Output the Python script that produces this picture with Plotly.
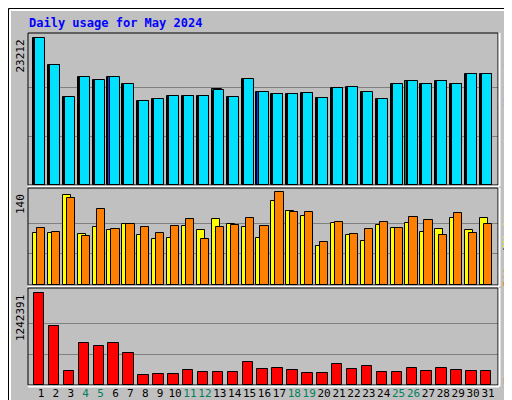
import plotly.graph_objects as go

days = list(range(1, 32))
hits = [23212, 18950, 13900, 17050, 16580, 17050, 15950, 13260, 13580, 14050, 14050, 14050, 15000, 13900, 16740, 14690,
        14370, 14370, 14530, 13740, 15320, 15470, 14690, 13580, 15950, 16420, 15950, 16420, 15950, 17530, 17530]
files = [23000, 18900, 13850, 17000, 16550, 17000, 15800, 13200, 13500, 13900, 14000, 14000, 14800, 13850, 16700, 14650,
         14300, 14300, 14450, 13700, 15250, 15400, 14600, 13500, 15800, 16300, 15900, 16350, 15900, 17450, 17450]
pages = [23212, 18950, 13900, 17050, 16580, 17050, 15950, 13260, 13580, 14050, 14050, 14050, 15200, 13900, 16740, 14690,
         14370, 14370, 14530, 13740, 15320, 15470, 14690, 13580, 15950, 16420, 15950, 16420, 15950, 17530, 17530]
sites = [78, 78, 135, 77, 87, 83, 92, 75, 69, 71, 89, 83, 99, 92, 87, 71,
         126, 111, 104, 59, 93, 75, 66, 90, 86, 93, 80, 84, 101, 83, 101]
visits = [86, 80, 131, 74, 114, 84, 92, 87, 78, 89, 99, 69, 87, 90, 101, 89,
          140, 110, 110, 65, 95, 77, 84, 95, 86, 102, 98, 75, 108, 78, 92]
kbytes = [1242391, 798000, 195000, 562000, 521000, 562000, 426000, 141000, 154000, 154000, 209000, 181000, 181000, 181000,
          304000, 222000, 236000, 209000, 168000, 168000, 277000, 222000, 263000, 181000, 181000, 236000, 195000, 236000,
          209000, 195000, 195000]
weekend = [4, 5, 11, 12, 18, 19, 25, 26]

W, H = 512, 400
def py(p):
    return 1 - p / H
def px(p):
    return p / W

fig = go.Figure()
line = dict(color='black', width=1)
# pages / files / hits
fig.add_trace(go.Bar(x=days, y=pages, offset=-0.54, width=0.72, marker=dict(color='#00805C', line=line), xaxis='x', yaxis='y'))
fig.add_trace(go.Bar(x=days, y=files, offset=-0.47, width=0.72, marker=dict(color='#0040FF', line=line), xaxis='x', yaxis='y'))
fig.add_trace(go.Bar(x=days, y=hits, offset=-0.4, width=0.67, marker=dict(color='#00E0FF', line=line), xaxis='x', yaxis='y'))
# sites / visits
fig.add_trace(go.Bar(x=days, y=sites, offset=-0.54, width=0.55, marker=dict(color='#FFFF00', line=line), xaxis='x2', yaxis='y2'))
fig.add_trace(go.Bar(x=days, y=visits, offset=-0.27, width=0.55, marker=dict(color='#FF8000', line=line), xaxis='x2', yaxis='y2'))
# kbytes
fig.add_trace(go.Bar(x=days, y=kbytes, offset=-0.47, width=0.7, marker=dict(color='#FF0000', line=line), xaxis='x3', yaxis='y3'))

xr = [0.13, 31.67]
ticktext = [f"<span style='color:#00805C'>{d}</span>" if d in weekend else str(d) for d in days]
common_x = dict(range=xr, domain=[px(20), px(490)], showgrid=False, zeroline=False, fixedrange=True, automargin=False)
common_y = dict(showticklabels=False, ticks='', zeroline=False, gridcolor='#808080', gridwidth=1, automargin=False)
mono = 'DejaVu Sans Mono'
fig.update_layout(
    width=W, height=H, margin=dict(l=0, r=0, t=0, b=0, autoexpand=False), showlegend=False,
    barmode='overlay', bargap=0,
    paper_bgcolor='#C0C0C0', plot_bgcolor='#C0C0C0',
    font=dict(family=mono, size=11, color='black'),
    xaxis=dict(common_x, anchor='y', showticklabels=False),
    xaxis2=dict(common_x, anchor='y2', showticklabels=False),
    xaxis3=dict(common_x, anchor='y3', tickvals=days, ticktext=ticktext, ticks='', tickangle=0,
                tickfont=dict(family=mono, size=11)),
    yaxis=dict(common_y, domain=[py(177), py(25)], range=[0, 24000], tickvals=[7737, 15474]),
    yaxis2=dict(common_y, domain=[py(277), py(180)], range=[0, 146], tickvals=[47, 93]),
    yaxis3=dict(common_y, domain=[py(377), py(280)], range=[0, 1310000], tickvals=[414130, 828260]),
)

shapes = [
    dict(type='rect', xref='paper', yref='paper', x0=px(0.5), x1=px(511.5), y0=py(399.5), y1=py(0.5), line=dict(color='black', width=1)),
    dict(type='line', xref='paper', yref='paper', x0=px(2), x1=px(510), y0=py(397), y1=py(397), line=dict(color='#808080', width=3)),
    dict(type='line', xref='paper', yref='paper', x0=px(510), x1=px(510), y0=py(2), y1=py(397), line=dict(color='#808080', width=3)),
    dict(type='line', xref='paper', yref='paper', x0=px(2), x1=px(508), y0=py(2), y1=py(2), line=dict(color='white', width=2)),
    dict(type='line', xref='paper', yref='paper', x0=px(2), x1=px(2), y0=py(2), y1=py(396), line=dict(color='white', width=2)),
]
for top, bot in [(25, 177), (180, 277), (280, 377)]:
    shapes.append(dict(type='rect', xref='paper', yref='paper', x0=px(20), x1=px(490), y0=py(bot), y1=py(top),
                       line=dict(color='black', width=1)))
    shapes.append(dict(type='line', xref='paper', yref='paper', x0=px(20), x1=px(491), y0=py(bot + 1.5), y1=py(bot + 1.5),
                       line=dict(color='white', width=2)))
    shapes.append(dict(type='line', xref='paper', yref='paper', x0=px(491.5), x1=px(491.5), y0=py(bot + 1.5), y1=py(top),
                       line=dict(color='white', width=2)))
fig.update_layout(shapes=shapes)

ann = [
    dict(text='<b>Daily usage for May 2024</b>', x=px(19), y=py(15), xanchor='left', yanchor='middle',
         font=dict(family=mono, size=12, color='#0000FF')),
    dict(text='23212', x=px(12), y=py(30), xanchor='center', yanchor='top', textangle=-90),
    dict(text='140', x=px(12), y=py(184), xanchor='center', yanchor='top', textangle=-90),
    dict(text='1242391', x=px(12), y=py(285), xanchor='center', yanchor='top', textangle=-90),
    dict(text="<span style='color:#00E0FF'>Pages</span>/<span style='color:#0040FF'>Files</span>/<span style='color:#00805C'>Hits</span>",
         x=px(500), y=py(27), xanchor='center', yanchor='top', textangle=-90),
    dict(text="<span style='color:#FF8000'>Sites</span>/<span style='color:#FFFF00'>Visits</span>",
         x=px(500), y=py(197), xanchor='center', yanchor='top', textangle=-90),
    dict(text="<span style='color:#FF0000'>KBytes</span>",
         x=px(500), y=py(339), xanchor='center', yanchor='top', textangle=-90),
]
for a in ann:
    a.setdefault('xref', 'paper')
    a.setdefault('yref', 'paper')
    a['showarrow'] = False
fig.update_layout(annotations=ann)

fig.write_html("out.html")
